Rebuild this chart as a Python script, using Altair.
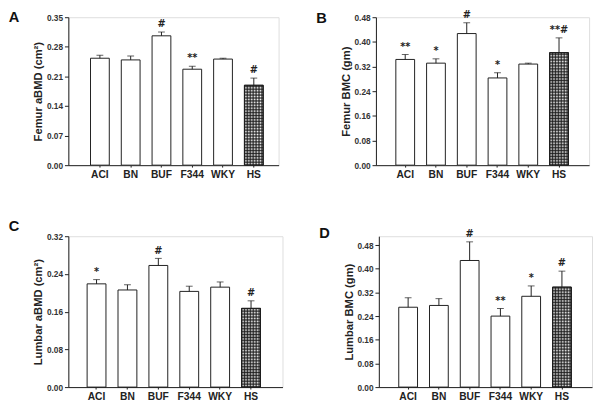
import altair as alt
import pandas as pd

strains = ["ACI", "BN", "BUF", "F344", "WKY", "HS"]

femur_abmd = [0.253, 0.249, 0.306, 0.227, 0.251, 0.189]
femur_abmd_err = [0.007, 0.009, 0.009, 0.007, 0.002, 0.017]
femur_abmd_sig = ["", "", "#", "**", "", "#"]

femur_bmc = [0.343, 0.331, 0.427, 0.283, 0.328, 0.365]
femur_bmc_err = [0.016, 0.014, 0.035, 0.017, 0.003, 0.048]
femur_bmc_sig = ["**", "*", "#", "*", "", "**#"]

lumbar_abmd = [0.219, 0.206, 0.258, 0.203, 0.212, 0.167]
lumbar_abmd_err = [0.009, 0.011, 0.015, 0.011, 0.011, 0.016]
lumbar_abmd_sig = ["*", "", "#", "", "", "#"]

lumbar_bmc = [0.270, 0.276, 0.428, 0.240, 0.307, 0.338]
lumbar_bmc_err = [0.032, 0.023, 0.063, 0.026, 0.035, 0.054]
lumbar_bmc_sig = ["", "", "#", "**", "*", "#"]

INK = "#1e1e1e"
FONT = "Liberation Sans"
PAD_INNER = 0.39
PERIOD = 3.0   # hatch cell size in px


def stripes(length_px, horizontal):
    """Soft stripe gradient (triangle wave) anchored at the bar's bottom/left edge."""
    dark = "rgba(25,25,25,0.85)"
    clear = "rgba(25,25,25,0)"
    stops = [alt.GradientStop(offset=0, color=dark)]
    pos = 0.0
    while pos < length_px:
        mid = min(1.0, (pos + PERIOD / 2) / length_px)
        end = min(1.0, (pos + PERIOD) / length_px)
        stops += [alt.GradientStop(offset=mid, color=clear),
                  alt.GradientStop(offset=end, color=dark)]
        pos += PERIOD
    if horizontal:
        return alt.LinearGradient(gradient="linear", stops=stops, x1=0, x2=0, y1=1, y2=0)
    return alt.LinearGradient(gradient="linear", stops=stops, x1=0, x2=1, y1=0, y2=0)


def panel(letter, ytitle, vals, errs, sigs, ymax, ticks, w, h, align, po, dy):
    df = pd.DataFrame({
        "strain": strains,
        "value": vals,
        "upper": [v + e for v, e in zip(vals, errs)],
        "sig": sigs,
    })
    xenc = alt.X(
        "strain:N", sort=strains,
        scale=alt.Scale(paddingInner=PAD_INNER, paddingOuter=po, align=align),
        axis=alt.Axis(title=None, labelAngle=0, tickSize=2, labelPadding=3,
                      labelFontSize=10.5, labelFontWeight="bold", labelFont=FONT,
                      labelColor="#222", domainColor=INK, tickColor=INK),
    )
    yscale = alt.Scale(domain=[0, ymax], nice=False, zero=True)
    yaxis = alt.Axis(values=ticks, format=".2f", title=ytitle, tickSize=4,
                     labelFontSize=8.5, labelFontWeight="bold", labelFont=FONT,
                     labelColor="#333", titleFont=FONT, titleFontSize=11.5,
                     titleFontWeight="bold", titleColor="#222", titlePadding=3,
                     labelPadding=2, domainColor=INK, tickColor=INK, grid=False)

    def Y(field):
        return alt.Y(field, scale=yscale, axis=yaxis)

    base = alt.Chart(df).encode(x=xenc)
    bars = base.mark_bar(fill="white", stroke=INK, strokeWidth=1).encode(y=Y("value:Q"))

    hs_val = vals[strains.index("HS")]
    step = w / (len(strains) - PAD_INNER + 2 * po)
    bw = step * (1 - PAD_INNER)
    bh = hs_val / ymax * h
    hs = base.transform_filter(alt.datum.strain == "HS")
    hatch_h = hs.mark_bar(fill=stripes(bh, True), strokeWidth=0).encode(y=Y("value:Q"))
    hatch_v = hs.mark_bar(fill=stripes(bw, False), strokeWidth=0).encode(y=Y("value:Q"))
    hs_outline = hs.mark_bar(fill="rgba(0,0,0,0)", stroke=INK, strokeWidth=1).encode(y=Y("value:Q"))

    rule = base.mark_rule(color=INK, strokeWidth=1).encode(y=Y("value:Q"), y2="upper:Q")
    cap = base.mark_tick(color=INK, size=7, thickness=1).encode(y=Y("upper:Q"))
    text = base.mark_text(baseline="bottom", dy=-3, fontSize=10, fontWeight="bold",
                          font="DejaVu Sans", color="#222").encode(y=Y("upper:Q"), text="sig:N")

    return alt.layer(bars, hatch_h, hatch_v, hs_outline, rule, cap, text).properties(
        width=w, height=h,
        title=alt.TitleParams(text=letter, orient="left", anchor="end", angle=0,
                              align="right", baseline="top", fontSize=15,
                              fontWeight="bold", font=FONT, color="#111",
                              offset=3, frame="group", dy=dy),
    )


A = panel("A", "Femur aBMD (cm²)", femur_abmd, femur_abmd_err, femur_abmd_sig,
          0.35, [0, 0.07, 0.14, 0.21, 0.28, 0.35], 216, 152, 0.59, 0.61, -7)
B = panel("B", "Femur BMC (gm)", femur_bmc, femur_bmc_err, femur_bmc_sig,
          0.48, [0, 0.08, 0.16, 0.24, 0.32, 0.40, 0.48], 219, 152, 0.49, 0.66, -6)
C = panel("C", "Lumbar aBMD (cm²)", lumbar_abmd, lumbar_abmd_err, lumbar_abmd_sig,
          0.32, [0, 0.08, 0.16, 0.24, 0.32], 220, 155, 0.46, 0.66, -17)
D = panel("D", "Lumbar BMC (gm)", lumbar_bmc, lumbar_bmc_err, lumbar_bmc_sig,
          0.51, [0, 0.08, 0.16, 0.24, 0.32, 0.40, 0.48], 219, 155, 0.49, 0.66, -10)

chart = alt.vconcat(
    alt.hconcat(A, B, spacing=37),
    alt.hconcat(C, D, spacing=36),
    spacing=39,
).properties(
    padding={"top": -4, "left": 0, "right": 0, "bottom": 0}
).configure_view(stroke=None).configure(background="white")

chart.save("out.html", embed_options={"renderer": "svg", "actions": False})
